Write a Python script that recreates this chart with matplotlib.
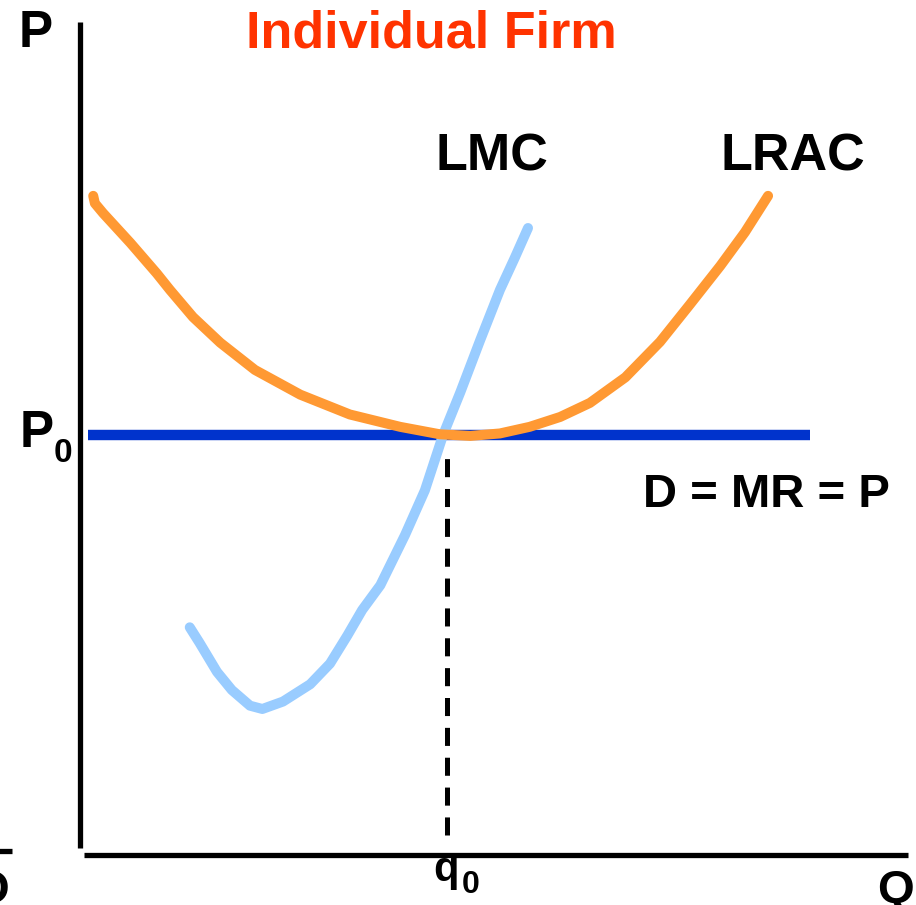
import matplotlib
matplotlib.use("Agg")
import matplotlib.pyplot as plt

plt.rcParams["font.family"] = ["Liberation Sans", "DejaVu Sans"]
plt.rcParams["lines.scale_dashes"] = False

# Long-run average cost curve (Q, P)
lrac_q = [1.6, 1.8, 2.8, 6.1, 9.3, 10.9, 13.7, 17.0, 21.2, 26.7, 32.7, 38.8,
          43.6, 47.3, 50.9, 54.5, 58.2, 61.8, 66.1, 70.3, 73.9, 77.6, 80.6, 83.4]
lrac_p = [79.9, 79.0, 77.8, 74.2, 70.5, 68.5, 65.2, 62.1, 58.8, 55.8, 53.4, 51.9,
          51.0, 50.8, 51.1, 51.9, 53.1, 54.8, 57.9, 62.2, 66.7, 71.4, 75.5, 79.9]

# Long-run marginal cost curve (Q, P)
lmc_q = [13.3, 14.5, 16.6, 18.4, 20.6, 22.1, 24.6, 27.9, 30.3, 32.4, 34.2, 36.4,
         39.4, 41.8, 44.0, 46.1, 48.5, 50.9, 52.7, 54.3]
lmc_p = [27.6, 25.7, 22.2, 20.0, 18.1, 17.7, 18.6, 20.7, 23.2, 26.6, 29.7, 32.7,
         38.8, 44.2, 50.9, 56.1, 62.4, 68.5, 72.4, 76.0]

# Demand = MR = P line and equilibrium quantity
p0 = 50.9
demand_q = [1.0, 88.5]
q0 = 44.5

fig = plt.figure(figsize=(9.16, 9.05), dpi=100)
ax = fig.add_axes([0, 0, 1, 1])
ax.set_xlim(-9.7, 101.33)
ax.set_ylim(-6.06, 103.64)
ax.axis("off")

# axes
ax.plot([0, 0], [0.85, 101.0], color="black", lw=3.8, solid_capstyle="butt")
ax.plot([0.5, 100.4], [0.05, 0.05], color="black", lw=3.8, solid_capstyle="butt")
# edge of neighbouring panel
ax.plot([-10.5, -8.2], [0.5, 0.5], color="black", lw=3.8, solid_capstyle="butt")
ax.text(-10.9, -5.8, "Q", fontsize=34, fontweight="bold", ha="center", va="baseline")

# curves
ax.plot(demand_q, [p0, p0], color="#0033CC", lw=7.5, solid_capstyle="butt")
ax.plot(lmc_q, lmc_p, color="#99CCFF", lw=7.2, solid_capstyle="round", solid_joinstyle="round")
ax.plot(lrac_q, lrac_p, color="#FF9933", lw=7.2, solid_capstyle="round", solid_joinstyle="round")
ax.plot([q0, q0], [2.4, 48.8], color="black", lw=3.6, dashes=(13, 8.5))

# labels
bold = dict(fontweight="bold", va="baseline")
ax.text(-5.33, 97.94, "P", fontsize=37, ha="center", **bold)
ax.text(42.6, 97.94, "Individual Firm", fontsize=37.5, color="#FF3300", ha="center", **bold)
ax.text(49.9, 83.0, "LMC", fontsize=37.5, ha="center", **bold)
ax.text(86.4, 83.0, "LRAC", fontsize=37.5, ha="center", **bold)
ax.text(83.2, 42.2, "D = MR = P", fontsize=34, ha="center", **bold)
ax.text(-5.2, 49.45, "P", fontsize=37, ha="center", **bold)
ax.text(-2.1, 47.6, "0", fontsize=24, ha="center", **bold)
ax.text(44.4, -3.15, "q", fontsize=30, ha="center", **bold)
ax.text(47.3, -4.6, "0", fontsize=23, ha="center", **bold)
ax.text(98.8, -5.8, "Q", fontsize=34, ha="center", **bold)

fig.savefig("out.png", dpi=100)
